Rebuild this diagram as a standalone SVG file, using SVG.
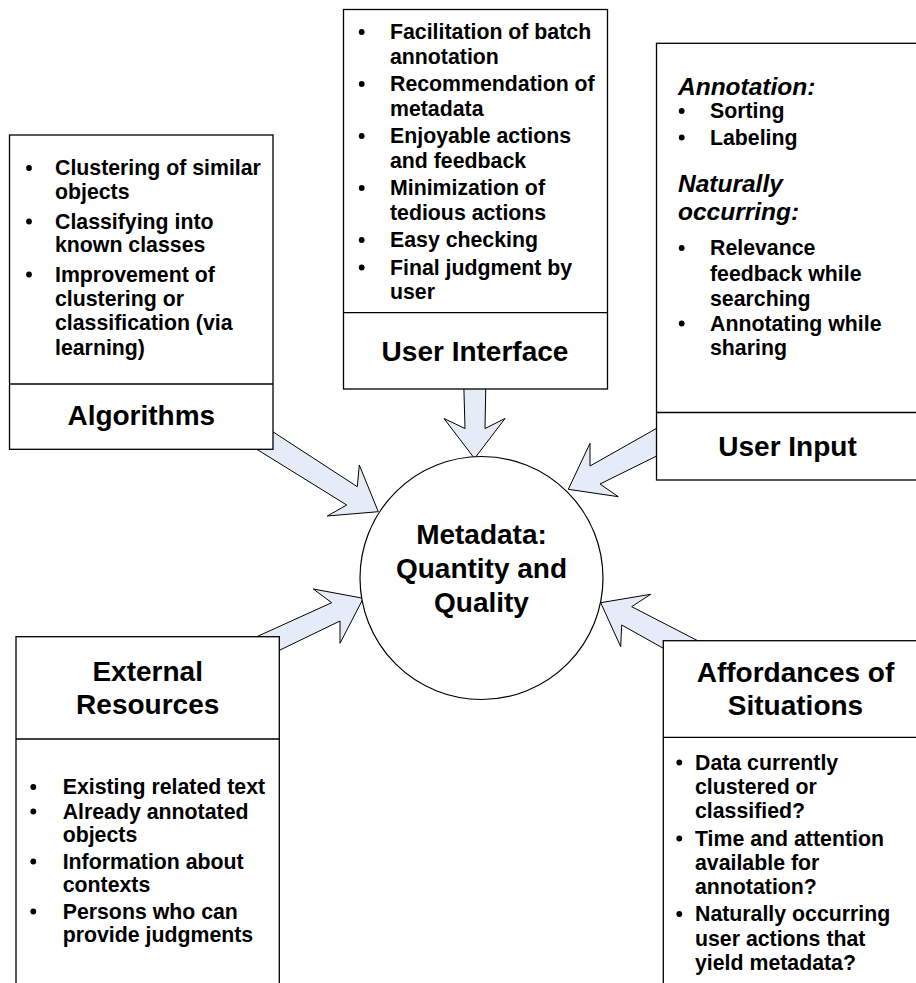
<svg xmlns="http://www.w3.org/2000/svg" width="916" height="983" viewBox="0 0 916 983">
<style>
.box{fill:#fff;stroke:#000;stroke-width:1.3}
.div{stroke:#000;stroke-width:1.3}
.arrow{fill:#E6ECF7;stroke:#000;stroke-width:1;stroke-linejoin:miter}
.t{font-family:"Liberation Sans",Arial,sans-serif;font-weight:bold;fill:#000}
.li{font-size:21.3px}
.ti{font-size:28px;text-anchor:middle}
.it{font-size:24.5px;font-style:italic}
.b{fill:#000}
</style>
<g id="connectors">
<polygon class="arrow" points="463.5,375 465,428.5 444,418.5 474.5,458.5 505,418.5 485,428.5 486,375"/>
<polygon class="arrow" points="240,410.4 357.3,486.7 359.3,465 378.3,511.7 327.3,516 346.7,505 230,432.7"/>
<polygon class="arrow" points="700,403.8 590,466 590,443.3 568.3,489.3 618.3,496.7 600,484 700,434.6"/>
<polygon class="arrow" points="240,644.3 331.7,602.7 313.3,589 363.3,598.3 340,643.3 340,621 260,659.7"/>
<polygon class="arrow" points="720,652.2 631.7,606.7 650.7,594.3 600.7,602.7 620.7,646.7 621.7,625 690,663.2"/>
</g>
<g id="algorithms">
<rect class="box" x="9.5" y="135" width="263.5" height="314.3"/>
<line class="div" x1="9.5" y1="384" x2="273" y2="384"/>
<circle class="b" cx="29" cy="168" r="2.9"/>
<circle class="b" cx="29" cy="221.5" r="2.9"/>
<circle class="b" cx="29" cy="274.5" r="2.9"/>
<text class="t li" x="55" y="175">Clustering of similar</text>
<text class="t li" x="55" y="199.3">objects</text>
<text class="t li" x="55" y="228.5">Classifying into</text>
<text class="t li" x="55" y="252">known classes</text>
<text class="t li" x="55" y="281.5">Improvement of</text>
<text class="t li" x="55" y="305.5">clustering or</text>
<text class="t li" x="55" y="330">classification (via</text>
<text class="t li" x="55" y="354.5">learning)</text>
<text class="t ti" x="141.3" y="425">Algorithms</text>
</g>
<g id="user-interface">
<rect class="box" x="343.5" y="9.5" width="264" height="379.5"/>
<line class="div" x1="343.5" y1="312.7" x2="607.5" y2="312.7"/>
<circle class="b" cx="361.7" cy="32" r="2.9"/>
<circle class="b" cx="361.7" cy="84" r="2.9"/>
<circle class="b" cx="361.7" cy="136" r="2.9"/>
<circle class="b" cx="361.7" cy="188" r="2.9"/>
<circle class="b" cx="361.7" cy="240" r="2.9"/>
<circle class="b" cx="361.7" cy="267.5" r="2.9"/>
<text class="t li" x="390" y="39">Facilitation of batch</text>
<text class="t li" x="390" y="63.5">annotation</text>
<text class="t li" x="390" y="91">Recommendation of</text>
<text class="t li" x="390" y="115.5">metadata</text>
<text class="t li" x="390" y="143">Enjoyable actions</text>
<text class="t li" x="390" y="167.5">and feedback</text>
<text class="t li" x="390" y="195">Minimization of</text>
<text class="t li" x="390" y="219.5">tedious actions</text>
<text class="t li" x="390" y="247">Easy checking</text>
<text class="t li" x="390" y="274.5">Final judgment by</text>
<text class="t li" x="390" y="299">user</text>
<text class="t ti" x="475" y="360.5">User Interface</text>
</g>
<g id="user-input">
<rect class="box" x="656.5" y="43.3" width="280" height="436.7"/>
<line class="div" x1="656.5" y1="412.5" x2="936.5" y2="412.5"/>
<text class="t it" x="678" y="95">Annotation:</text>
<circle class="b" cx="681.7" cy="111" r="2.9"/>
<circle class="b" cx="681.7" cy="137.5" r="2.9"/>
<text class="t li" x="710" y="118">Sorting</text>
<text class="t li" x="710" y="144.5">Labeling</text>
<text class="t it" x="678" y="192">Naturally</text>
<text class="t it" x="678" y="220">occurring:</text>
<circle class="b" cx="681.7" cy="248" r="2.9"/>
<circle class="b" cx="681.7" cy="323.5" r="2.9"/>
<text class="t li" x="710" y="255">Relevance</text>
<text class="t li" x="710" y="280.5">feedback while</text>
<text class="t li" x="710" y="305.5">searching</text>
<text class="t li" x="710" y="330.5">Annotating while</text>
<text class="t li" x="710" y="355">sharing</text>
<text class="t ti" x="787.5" y="456">User Input</text>
</g>
<g id="external-resources">
<rect class="box" x="16" y="636.7" width="263.3" height="400"/>
<line class="div" x1="16" y1="739" x2="279.3" y2="739"/>
<text class="t ti" x="147.7" y="681">External</text>
<text class="t ti" x="147.7" y="714">Resources</text>
<circle class="b" cx="33.3" cy="787" r="2.9"/>
<circle class="b" cx="33.3" cy="811.5" r="2.9"/>
<circle class="b" cx="33.3" cy="861.5" r="2.9"/>
<circle class="b" cx="33.3" cy="911.5" r="2.9"/>
<text class="t li" x="62.7" y="794">Existing related text</text>
<text class="t li" x="62.7" y="818.5">Already annotated</text>
<text class="t li" x="62.7" y="842">objects</text>
<text class="t li" x="62.7" y="868.5">Information about</text>
<text class="t li" x="62.7" y="892">contexts</text>
<text class="t li" x="62.7" y="918.5">Persons who can</text>
<text class="t li" x="62.7" y="942">provide judgments</text>
</g>
<g id="affordances">
<rect class="box" x="663.3" y="640.7" width="280" height="400"/>
<line class="div" x1="663.3" y1="737.3" x2="943.3" y2="737.3"/>
<text class="t ti" x="795.5" y="682">Affordances of</text>
<text class="t ti" x="795.5" y="715">Situations</text>
<circle class="b" cx="679.3" cy="762.5" r="2.9"/>
<circle class="b" cx="679.3" cy="838.5" r="2.9"/>
<circle class="b" cx="679.3" cy="914" r="2.9"/>
<text class="t li" x="695" y="769.5">Data currently</text>
<text class="t li" x="695" y="793.5">clustered or</text>
<text class="t li" x="695" y="818">classified?</text>
<text class="t li" x="695" y="845.5">Time and attention</text>
<text class="t li" x="695" y="869.5">available for</text>
<text class="t li" x="695" y="894">annotation?</text>
<text class="t li" x="695" y="921">Naturally occurring</text>
<text class="t li" x="695" y="945.5">user actions that</text>
<text class="t li" x="695" y="969.5">yield metadata?</text>
</g>
<g id="metadata">
<circle cx="481.5" cy="578" r="121.5" fill="#fff" stroke="#000" stroke-width="1.2"/>
<text class="t ti" x="481.5" y="544">Metadata:</text>
<text class="t ti" x="481.5" y="578">Quantity and</text>
<text class="t ti" x="481.5" y="612">Quality</text>
</g>
</svg>
